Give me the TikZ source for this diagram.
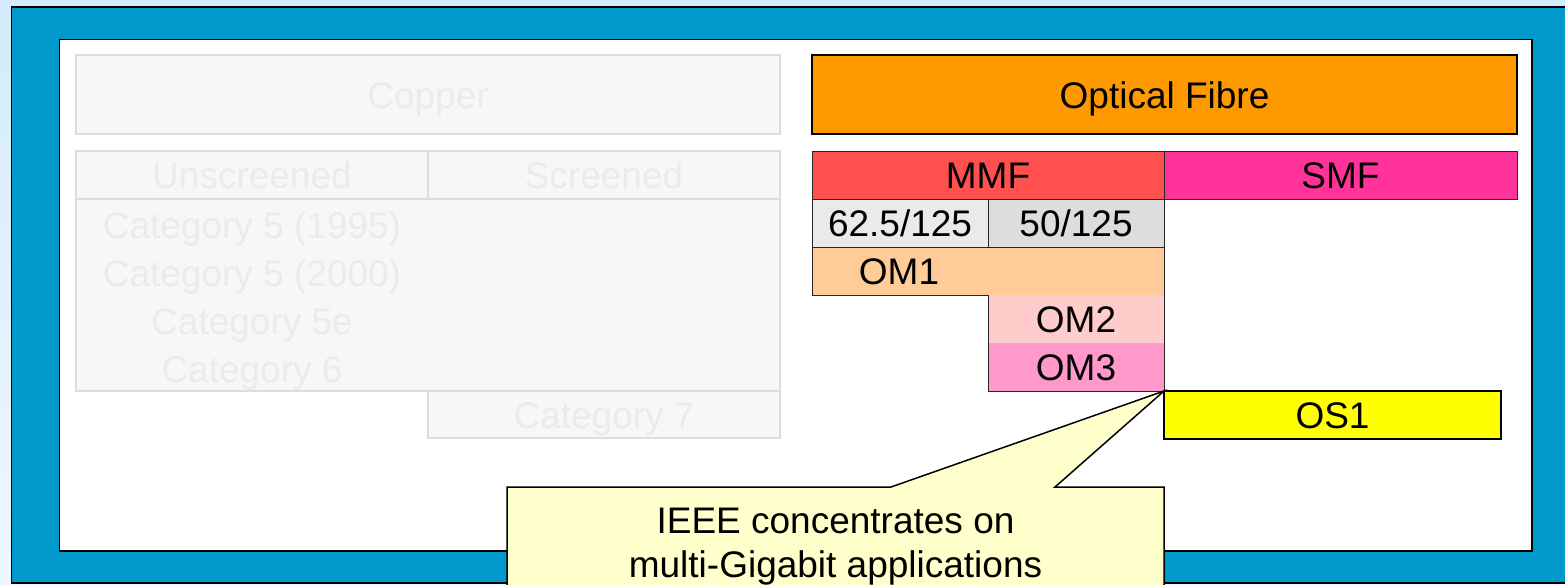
\documentclass[tikz,border=0pt]{standalone}
\usepackage{fontspec}
\setmainfont{Liberation Sans}
\definecolor{bgtop}{HTML}{D3EBFA}
\definecolor{bgbot}{HTML}{EFF7FE}
\definecolor{frameblue}{HTML}{0099CC}
\definecolor{cufill}{HTML}{F7F7F7}
\definecolor{cuedge}{HTML}{DDDDDD}
\definecolor{cutext}{HTML}{EBEBEB}
\definecolor{optfill}{HTML}{FF9900}
\definecolor{mmffill}{HTML}{FF5050}
\definecolor{smffill}{HTML}{FF3399}
\definecolor{afill}{HTML}{EAEAEA}
\definecolor{bfill}{HTML}{DDDDDD}
\definecolor{omone}{HTML}{FFCC99}
\definecolor{omtwo}{HTML}{FFCCCC}
\definecolor{omthree}{HTML}{FF99CC}
\definecolor{osfill}{HTML}{FFFF00}
\definecolor{notefill}{HTML}{FFFFCC}
\begin{document}
\begin{tikzpicture}[x=1pt,y=-1pt,
  every node/.style={font=\fontsize{37}{44}\selectfont, inner sep=0pt, outer sep=0pt},
  lbl/.style={text height=27pt, text depth=0pt},
  cu/.style={lbl, draw=cuedge, fill=cufill, line width=1.3pt, text=cutext},
  cutxt/.style={lbl, text=cutext},
  fib/.style={lbl, draw=black!85, line width=1pt},
  fibthick/.style={lbl, draw=black, line width=2pt}
]
\useasboundingbox (0,0) rectangle (1565,584);
\shade[top color=bgtop, bottom color=bgbot] (0,0) rectangle (1565,584);
\draw[fill=frameblue, line width=1.5pt] (11.5,7) rectangle (1590,583);
\draw[fill=white, line width=1.5pt] (59.5,39.5) rectangle (1532,551);

% Copper side
\node[cu, minimum width=704pt, minimum height=79pt] (copper) at (428,94.5) {Copper};
\node[cu, minimum width=352pt, minimum height=48pt] (unscr) at (252,175) {Unscreened};
\node[cu, minimum width=352pt, minimum height=48pt] (scr) at (604,175) {Screened};
\node[cu, minimum width=704pt, minimum height=192pt] (rows) at (428,295) {};
\node[cutxt] (cat5a) at (252,225) {Category 5 (1995)};
\node[cutxt] (cat5b) at (252,273) {Category 5 (2000)};
\node[cutxt] (cat5e) at (252,321) {Category 5e};
\node[cutxt] (cat6) at (252,369) {Category 6};
\node[cu, minimum width=352pt, minimum height=47pt] (cat7) at (604,414.5) {Category 7};

% Fibre side
\node[fibthick, fill=optfill, minimum width=705pt, minimum height=79pt] (optical) at (1164.5,94.5) {Optical Fibre};
\node[fib, fill=mmffill, minimum width=352pt, minimum height=48pt] (mmf) at (988,175) {MMF};
\node[fib, fill=smffill, minimum width=353pt, minimum height=48pt] (smf) at (1340.5,175) {SMF};
\node[fib, fill=afill, minimum width=176pt, minimum height=48pt] (sixtwo) at (900,223) {62.5/125};
\node[fib, fill=bfill, minimum width=176pt, minimum height=48pt] (fifty) at (1076,223) {50/125};

\fill[omone] (812,247) rectangle (1164,295);
\fill[omtwo] (988,295) rectangle (1164,343);
\fill[omthree] (988,343) rectangle (1164,391);
\draw[black!85, line width=1pt] (812,247) -- (1164,247) -- (1164,391) -- (988,391) -- (988,295) -- (812,295) -- cycle;
\node[lbl] (om1) at (899,271) {OM1};
\node[lbl] (om2) at (1076,319) {OM2};
\node[lbl] (om3) at (1076,367) {OM3};

\node[fibthick, fill=osfill, minimum width=337pt, minimum height=48pt] (os1) at (1332.5,415) {OS1};

% Callout
\coordinate (tip) at (os1.north west);
\draw[fill=notefill, line width=1.5pt, line join=miter]
  (507,487) -- (891,487) -- (tip) -- (1055,487) -- (1164,487) -- (1164,600) -- (507,600) -- cycle;
\node[anchor=north, align=center] (note) at (835.5,508.5) {IEEE concentrates on\\multi-Gigabit applications};
\end{tikzpicture}
\end{document}
